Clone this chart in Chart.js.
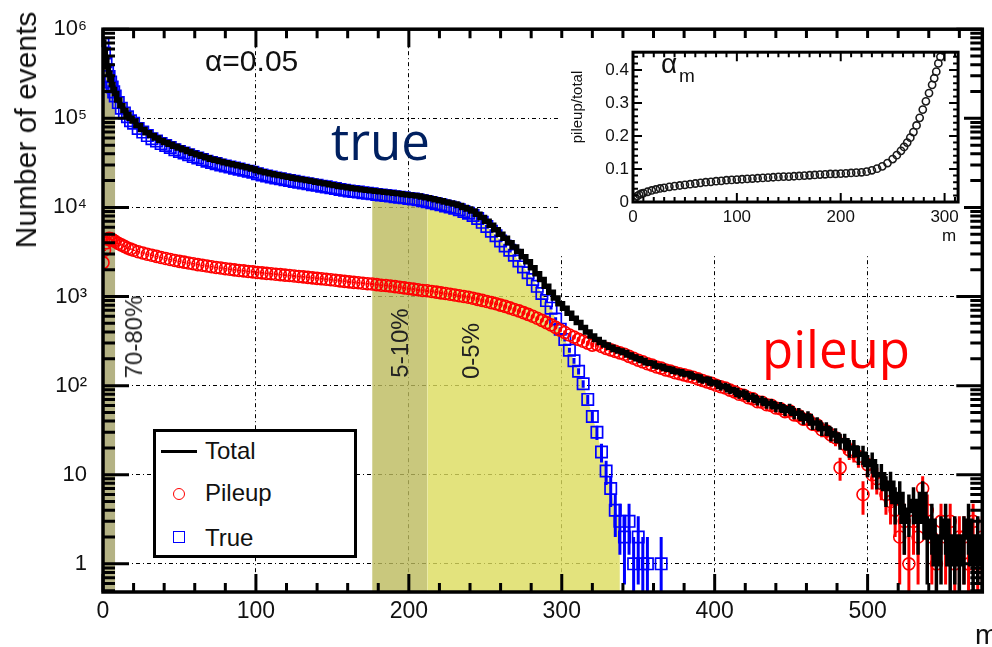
<!DOCTYPE html>
<html><head><meta charset="utf-8">
<script src="https://cdn.jsdelivr.net/npm/chart.js@4.4.1/dist/chart.umd.min.js"></script>
<style>
html,body{margin:0;padding:0;background:#fff;}
#wrap{position:relative;width:992px;height:647px;overflow:hidden;font-family:"Liberation Sans",Arial,sans-serif;color:#111;}
#main{position:absolute;left:0;top:0;}
#inset{position:absolute;left:560px;top:38px;background:#fff;}
.t{position:absolute;white-space:nowrap;line-height:1;}
.rot{position:absolute;width:0;height:0;}
.rot>div{position:absolute;left:0;top:0;white-space:nowrap;line-height:1;transform:translate(-50%,-50%) rotate(-90deg);}
</style></head><body>
<div id="wrap">
<canvas id="main" width="992" height="647"></canvas>
<canvas id="inset" width="404" height="217"></canvas>

<div class="rot" style="left:26px;top:130px"><div style="font-size:30px">Number of events</div></div>
<div class="t" style="left:205px;top:46px;font-size:30px">α=0.05</div>
<div class="t" style="left:331px;top:115px;font-size:51px;font-family:'Open Sans',sans-serif;color:#002060">true</div>
<div class="t" style="left:762px;top:323px;font-size:51px;font-family:'Open Sans',sans-serif;color:#ff0000">pileup</div>
<div class="rot" style="left:134px;top:337px"><div style="font-size:24px;color:#222">70-80%</div></div>
<div class="rot" style="left:400px;top:343px"><div style="font-size:24px;color:#222">5-10%</div></div>
<div class="rot" style="left:471px;top:351px"><div style="font-size:24px;color:#222">0-5%</div></div>
<div class="t" style="left:975px;top:621px;font-size:28px">m</div>

<div style="position:absolute;left:153px;top:429px;width:198px;height:123px;border:3px solid #000;background:#fff"></div>
<div style="position:absolute;left:161px;top:449.5px;width:36px;height:3px;background:#000"></div>
<div style="position:absolute;left:173px;top:488px;width:12px;height:12px;box-sizing:border-box;border:1.5px solid #ff0000;border-radius:50%"></div>
<div style="position:absolute;left:173px;top:531px;width:12px;height:12px;box-sizing:border-box;border:1.5px solid #0000ff"></div>
<div class="t" style="left:205px;top:439px;font-size:24px">Total</div>
<div class="t" style="left:205px;top:481px;font-size:24px">Pileup</div>
<div class="t" style="left:205px;top:526px;font-size:24px">True</div>

<div class="rot" style="left:576px;top:107px"><div style="font-size:15px">pileup/total</div></div>
<div class="t" style="left:942px;top:227px;font-size:17px">m</div>
<div class="t" style="left:661px;top:50px;font-size:28px">α</div>
<div class="t" style="left:679px;top:66px;font-size:19px">m</div>
</div>
<script>
// ---------- data ----------
const m = [0,1,2,3,4,5,6,7,8,10,12,14,16,18,20,
23,26,29,32,35,38,41,44,47,50,
53,56,59,62,65,68,71,74,77,80,
83,86,89,92,95,98,101,104,107,110,
113,116,119,122,125,128,131,134,137,140,
143,146,149,152,155,158,161,164,167,170,
173,176,179,182,185,188,191,194,197,200,
203,206,209,212,215,218,221,224,227,230,
233,236,239,242,245,248,251,254,257,260,
263,266,269,272,275,278,281,284,287,290,
293,296,299,302,305,308,311,314,317,320,
323,326,329,332,335,338,341,344,347,350,
353,356,359,362,365,368,371,374,377,380,
383,386,389,392,395,398,401,404,407,410,
413,416,419,422,425,428,431,434,437,440,
443,446,449,452,455,458,461,464,467,470,
473,476,479,482,485,488,491,494,497,500,
503,506,509,512,515,518,521,524,527,530,
533,536,539,542,545,548,551,554,557,560,
563,566,569,572,575];

const nTotal = [7.2e5,5.8e5,4.6e5,3.8e5,3.2e5,2.75e5,2.4e5,2.1e5,1.9e5,1.6e5,1.38e5,1.22e5,1.1e5,1.0e5,9.3e4,
8.3e4,7.5e4,6.9e4,6.4e4,6.0e4,5.65e4,5.35e4,5.1e4,4.85e4,4.65e4,
4.45e4,4.25e4,4.05e4,3.9e4,3.75e4,3.6e4,3.48e4,3.38e4,3.28e4,3.18e4,
3.1e4,3.02e4,2.94e4,2.86e4,2.78e4,2.7e4,2.6e4,2.52e4,2.45e4,2.39e4,
2.33e4,2.28e4,2.23e4,2.18e4,2.13e4,2.09e4,2.04e4,2.0e4,1.96e4,1.92e4,
1.88e4,1.84e4,1.8e4,1.76e4,1.72e4,1.69e4,1.66e4,1.63e4,1.61e4,1.58e4,
1.56e4,1.54e4,1.52e4,1.5e4,1.48e4,1.46e4,1.44e4,1.42e4,1.4e4,1.38e4,
1.36e4,1.34e4,1.31e4,1.28e4,1.25e4,1.22e4,1.19e4,1.15e4,1.12e4,1.09e4,
1.05e4,1.0e4,9.6e3,9.1e3,8.4e3,7.7e3,7.0e3,6.3e3,5.6e3,5.0e3,
4.5e3,4.0e3,3.6e3,3.2e3,2.8e3,2.45e3,2.1e3,1.8e3,1.55e3,1.3e3,
1120,960,830,740,650,570,510,450,400,360,
330,305,285,270,255,245,235,220,210,200,
192,181,178,166,164,156,153,145,143,136,
135,127,125,116,117,108,107,98,98,90,
88,80,82,74,74,68,68,63,63,58,
58,53,55,49,49,43,45,38,38,33,
33,29,28,24,24,20,20,17,17,13,
14,10,10,7,8,5,6,3,4,5,
3,6,2,3,1,2,3,1,2,1,
2,3,1,2,1];

const nPileup = [2.4e3,3.3e3,4.0e3,4.4e3,4.5e3,4.45e3,4.35e3,4.25e3,4.15e3,3.95e3,3.8e3,3.65e3,3.5e3,3.4e3,3.3e3,
3.18e3,3.08e3,2.98e3,2.9e3,2.82e3,2.74e3,2.67e3,2.6e3,2.54e3,2.48e3,
2.43e3,2.38e3,2.33e3,2.28e3,2.24e3,2.2e3,2.16e3,2.12e3,2.09e3,2.05e3,
2.02e3,1.99e3,1.96e3,1.94e3,1.91e3,1.89e3,1.86e3,1.84e3,1.82e3,1.8e3,
1.78e3,1.76e3,1.74e3,1.72e3,1.7e3,1.68e3,1.66e3,1.64e3,1.62e3,1.6e3,
1.58e3,1.56e3,1.54e3,1.52e3,1.5e3,1.48e3,1.46e3,1.44e3,1.43e3,1.41e3,
1.39e3,1.38e3,1.36e3,1.34e3,1.33e3,1.31e3,1.29e3,1.27e3,1.25e3,1.23e3,
1.21e3,1.19e3,1.17e3,1.16e3,1.14e3,1.12e3,1.1e3,1.08e3,1.06e3,1.04e3,
1020,1000,980,955,930,905,880,855,830,800,
775,745,715,690,660,630,600,570,540,510,
480,450,420,395,370,350,330,315,300,285,
290,275,262,252,242,233,225,213,203,193,
185,176,170,162,157,150,146,140,136,132,
128,124,119,114,110,106,101,97,94,89,
85,80,78,73,71,66,65,61,60,56,
55,51,52,47,46,42,42,37,36,32,
31,28,26,12,22,19,18,16,6,13,
10,9,8,6,5,4,2,3,1,3,
2,7,4,2,1,3,2,3,1,2,
2,1,3,1,2];

const nTrue = [6.8e5,5.4e5,4.3e5,3.5e5,2.95e5,2.55e5,2.25e5,1.98e5,1.78e5,1.5e5,1.3e5,1.15e5,1.04e5,9.4e4,8.8e4,
7.7e4,7.0e4,6.4e4,5.9e4,5.55e4,5.2e4,4.95e4,4.7e4,4.45e4,4.25e4,
4.08e4,3.9e4,3.72e4,3.58e4,3.44e4,3.3e4,3.19e4,3.1e4,3.0e4,2.92e4,
2.84e4,2.76e4,2.69e4,2.62e4,2.55e4,2.48e4,2.39e4,2.31e4,2.25e4,2.2e4,
2.14e4,2.1e4,2.05e4,2.0e4,1.96e4,1.92e4,1.88e4,1.84e4,1.8e4,1.77e4,
1.73e4,1.7e4,1.66e4,1.63e4,1.59e4,1.56e4,1.53e4,1.51e4,1.49e4,1.46e4,
1.44e4,1.42e4,1.4e4,1.38e4,1.36e4,1.34e4,1.32e4,1.3e4,1.28e4,1.26e4,
1.24e4,1.22e4,1.19e4,1.16e4,1.13e4,1.1e4,1.07e4,1.04e4,1.01e4,9.8e3,
9.4e3,9.0e3,8.6e3,8.1e3,7.5e3,6.8e3,6.1e3,5.4e3,4.8e3,4.2e3,
3.7e3,3.3e3,2.9e3,2.5e3,2.15e3,1.85e3,1.55e3,1.3e3,1.08e3,900,
740,560,430,330,250,190,145,105,70,45,
30,18,11,7,4,3,2,3,1,2,
1,1,null,null,1];

// centrality classes (m ranges) shaded under the true distribution
const bandLabels = ['70-80%','5-10%','0-5%'];
const bandFrom = [0,175,212];
const bandTo = [8,212,338];

// inset: pileup/total ratio alpha_m
const mInset = [0,2,4,6,8,10,14,18,22,26,30,35,40,45,50,55,60,65,70,75,80,85,90,95,100,105,110,115,120,125,130,135,140,145,150,155,160,165,170,175,180,185,190,195,200,205,210,215,220,225,230,235,240,245,250,254,258,261,264,267,270,273,276,279,282,285,288,290,292,294,296,298];
const ratioInset = [0.0,0.012,0.018,0.022,0.025,0.027,0.031,0.035,0.038,0.041,0.043,0.046,0.048,0.05,0.052,0.054,0.056,0.058,0.06,0.061,0.063,0.064,0.066,0.067,0.068,0.069,0.07,0.071,0.072,0.073,0.074,0.075,0.076,0.077,0.077,0.078,0.079,0.08,0.081,0.082,0.083,0.084,0.085,0.085,0.086,0.087,0.088,0.089,0.09,0.092,0.096,0.101,0.108,0.118,0.13,0.142,0.155,0.167,0.18,0.195,0.212,0.232,0.255,0.28,0.305,0.33,0.355,0.375,0.395,0.42,0.44,0.46];

// tick labels
const xTicks = [0,100,200,300,400,500];
const yTickValues = [1,10,100,1000,10000,100000,1000000];
const yTickLabels = ['1','10','10²','10³','10⁴','10⁵','10⁶'];
const xTicksInset = [0,100,200,300];
const yTicksInset = [0,0.1,0.2,0.3,0.4];
const yTickLabelsInset = ['0','0.1','0.2','0.3','0.4'];

// ---------- chart ----------
const FONT = "'Liberation Sans', Arial, sans-serif";
function pts(xs, ys){ return xs.map((x,i)=>({x:x, y:(ys[i]===undefined?null:ys[i])})); }
function bandPts(k){ return pts(m,nTrue).filter(p => p.x>=bandFrom[k] && p.x<=bandTo[k] && p.y!==null); }

const errBars = {
  id:'errBars',
  afterDatasetDraw(chart, args){
    const ds = chart.data.datasets[args.index];
    if (!ds.errColor) return;
    const ctx = chart.ctx, a = chart.chartArea, xs = chart.scales.x, ys = chart.scales.y;
    ctx.save();
    ctx.beginPath(); ctx.rect(a.left, a.top, a.right-a.left, a.bottom-a.top); ctx.clip();
    ctx.strokeStyle = ds.errColor; ctx.lineWidth = ds.errWidth;
    ctx.beginPath();
    ds.data.forEach(p => {
      if (p.y === null) return;
      const e = Math.sqrt(p.y);
      const px = xs.getPixelForValue(p.x);
      const top = ys.getPixelForValue(p.y + e);
      const lo = p.y - e;
      const bot = lo > ys.min ? ys.getPixelForValue(lo) : a.bottom;
      ctx.moveTo(px, top); ctx.lineTo(px, bot);
    });
    ctx.stroke();
    ctx.restore();
  }
};

const mainFrame = {
  id:'mainFrame',
  afterDraw(chart){
    const ctx = chart.ctx, a = chart.chartArea, xs = chart.scales.x, ys = chart.scales.y;
    ctx.save(); ctx.strokeStyle = '#000'; ctx.lineWidth = 3;
    ctx.beginPath();
    for (let v = 0; v <= xs.max; v += 20){
      const px = xs.getPixelForValue(v); const L = (v % 100 === 0) ? 18 : 9;
      ctx.moveTo(px, a.bottom); ctx.lineTo(px, a.bottom - L);
      ctx.moveTo(px, a.top); ctx.lineTo(px, a.top + L);
    }
    for (let k = -1; k <= 6; k++) for (let d = 1; d <= 9; d++){
      const v = d * Math.pow(10, k);
      if (v < ys.min || v > ys.max) continue;
      const py = ys.getPixelForValue(v); const L = d === 1 ? 26 : 12;
      ctx.moveTo(a.left, py); ctx.lineTo(a.left + L, py);
      ctx.moveTo(a.right, py); ctx.lineTo(a.right - L, py);
    }
    ctx.stroke();
    ctx.lineWidth = 3.5;
    ctx.strokeRect(a.left, a.top, a.right - a.left, a.bottom - a.top);
    ctx.restore();
  }
};

const bandColors = ['rgba(161,159,101,0.8)','rgba(187,186,92,0.8)','rgba(220,220,92,0.8)'];
const bandDatasets = bandLabels.map((lab,k) => ({
  label: lab, data: bandPts(k), showLine: true, fill: 'start',
  backgroundColor: bandColors[k], borderColor: 'rgba(0,0,0,0)', borderWidth: 0,
  pointRadius: 0, order: 3 + k
}));

new Chart(document.getElementById('main'), {
  type: 'scatter',
  data: { datasets: [
    { label:'Total', data: pts(m,nTotal), showLine:true, stepped:'middle', borderColor:'#000', borderWidth:5.5,
      pointRadius:0, spanGaps:false, order:0, errColor:'#000', errWidth:3.5 },
    { label:'Pileup', data: pts(m,nPileup), showLine:false, pointStyle:'circle', pointRadius:6,
      borderColor:'#ff0000', backgroundColor:'rgba(0,0,0,0)', borderWidth:1.6, order:1, errColor:'#ff0000', errWidth:3 },
    { label:'True', data: pts(m,nTrue), showLine:false, pointStyle:'rect', pointRadius:8,
      borderColor:'#0000ff', backgroundColor:'rgba(0,0,0,0)', borderWidth:1.7, order:2, errColor:'#0000ff', errWidth:3 },
    ...bandDatasets
  ]},
  options: {
    responsive:false, animation:false, events:[],
    layout:{ padding:{ left:0, right:2, top:21, bottom:0 } },
    plugins:{ legend:{display:false}, tooltip:{enabled:false} },
    scales:{
      x:{ type:'linear', min:0, max:575,
        afterBuildTicks: s => { s.ticks = xTicks.map(v => ({value:v})); },
        afterFit: s => { s.height = 55; },
        ticks:{ autoSkip:false, maxRotation:0, padding:6, color:'#111', font:{family:FONT, size:23}, callback: v => String(v) },
        grid:{ drawTicks:false, lineWidth:1, color: c => (c.tick && c.tick.value === 0) ? 'rgba(0,0,0,0)' : '#000' },
        border:{ display:false, dash:[4,3,1,3] } },
      y:{ type:'logarithmic', min:0.483, max:1e6,
        afterBuildTicks: s => { s.ticks = yTickValues.map(v => ({value:v})); },
        afterFit: s => { s.width = 103; },
        ticks:{ autoSkip:false, padding:16, color:'#111', font:{family:FONT, size:22},
          callback: v => { const i = yTickValues.indexOf(v); return i >= 0 ? yTickLabels[i] : ''; } },
        grid:{ drawTicks:false, lineWidth:1, color: c => (c.tick && c.tick.value === 1e6) ? 'rgba(0,0,0,0)' : '#000' },
        border:{ display:false, dash:[4,3,1,3] } }
    }
  },
  plugins:[errBars, mainFrame]
});

// ---------- inset ----------
const insetFrame = {
  id:'insetFrame',
  afterDraw(chart){
    const ctx = chart.ctx, a = chart.chartArea, xs = chart.scales.x, ys = chart.scales.y;
    ctx.save(); ctx.strokeStyle = '#000'; ctx.lineWidth = 2;
    ctx.beginPath();
    for (let i = 0; i * 10 <= xs.max; i++){
      const px = xs.getPixelForValue(i * 10); const L = (i % 10 === 0) ? 9 : 5;
      ctx.moveTo(px, a.bottom); ctx.lineTo(px, a.bottom - L);
      ctx.moveTo(px, a.top); ctx.lineTo(px, a.top + L);
    }
    for (let i = 0; i * 0.02 <= ys.max; i++){
      const py = ys.getPixelForValue(i * 0.02); const L = (i % 5 === 0) ? 9 : 5;
      ctx.moveTo(a.left, py); ctx.lineTo(a.left + L, py);
      ctx.moveTo(a.right, py); ctx.lineTo(a.right - L, py);
    }
    ctx.stroke();
    ctx.lineWidth = 3;
    ctx.strokeRect(a.left, a.top, a.right - a.left, a.bottom - a.top);
    ctx.restore();
  }
};

new Chart(document.getElementById('inset'), {
  type:'scatter',
  data:{ datasets:[{ label:'alpha_m', data: pts(mInset, ratioInset), pointStyle:'circle', pointRadius:3.6,
    borderColor:'#1a1a1a', backgroundColor:'rgba(0,0,0,0)', borderWidth:1.6 }]},
  options:{
    responsive:false, animation:false, events:[],
    layout:{ padding:{ left:0, right:5, top:4, bottom:0 } },
    plugins:{ legend:{display:false}, tooltip:{enabled:false} },
    scales:{
      x:{ type:'linear', min:0, max:313,
        afterBuildTicks: s => { s.ticks = xTicksInset.map(v => ({value:v})); },
        afterFit: s => { s.height = 53; },
        ticks:{ autoSkip:false, maxRotation:0, padding:5, color:'#111', font:{family:FONT, size:17}, callback: v => String(v) },
        grid:{ display:false, drawTicks:false }, border:{display:false} },
      y:{ type:'linear', min:0, max:0.454,
        afterBuildTicks: s => { s.ticks = yTicksInset.map(v => ({value:v})); },
        afterFit: s => { s.width = 73; },
        ticks:{ autoSkip:false, padding:4, color:'#111', font:{family:FONT, size:17},
          callback: v => { const i = yTicksInset.findIndex(t => Math.abs(t - v) < 1e-9); return i >= 0 ? yTickLabelsInset[i] : ''; } },
        grid:{ display:false, drawTicks:false }, border:{display:false} }
    }
  },
  plugins:[insetFrame]
});
</script>
</body></html>
